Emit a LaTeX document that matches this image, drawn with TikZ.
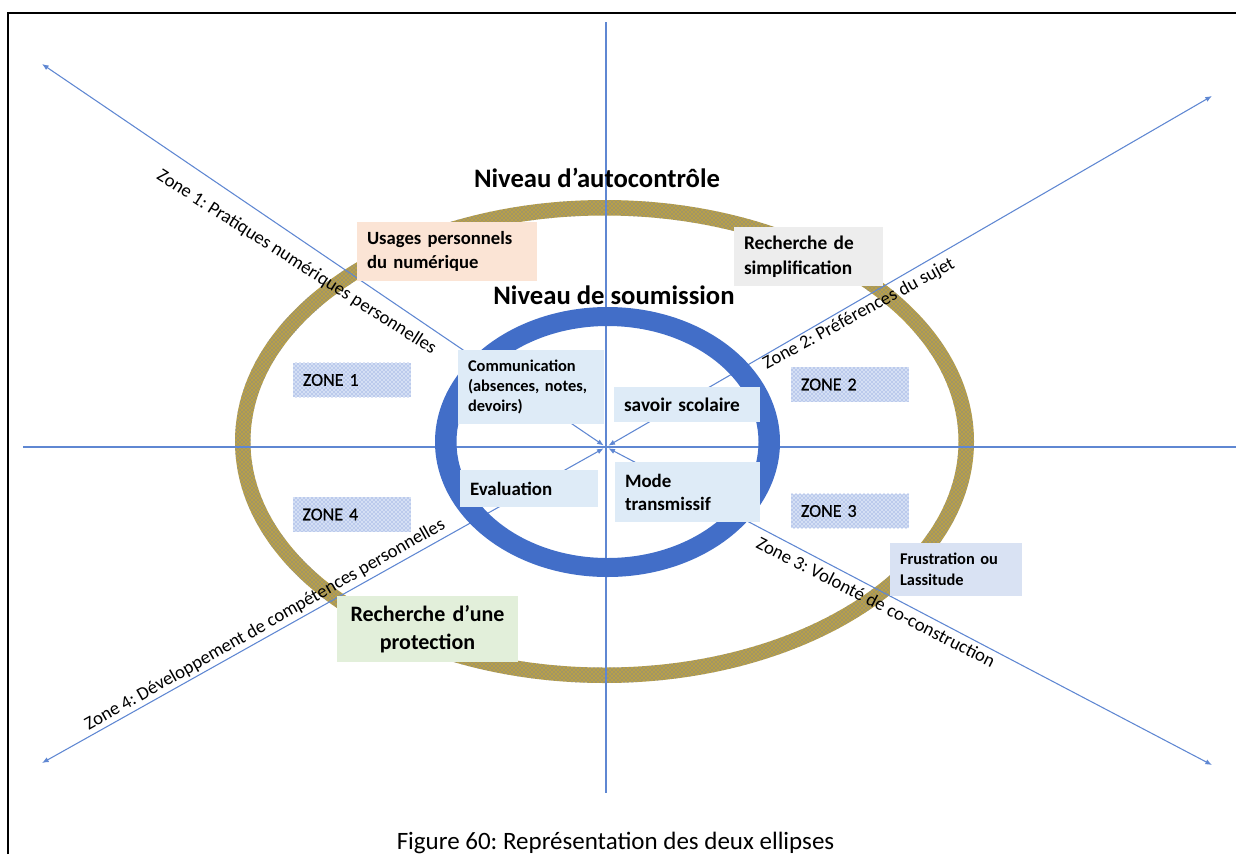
\documentclass[tikz,border=0pt]{standalone}
\usepackage{fontspec}
\setmainfont{Carlito}
\newfontfamily\zonefont{Carlito}[FakeBold=0.6]
\usetikzlibrary{arrows.meta,patterns}
\definecolor{axisblue}{RGB}{95,135,210}
\definecolor{ringblue}{RGB}{66,110,200}
\definecolor{gold}{RGB}{185,160,72}
\definecolor{dotblue}{RGB}{85,115,200}
\definecolor{zdot}{RGB}{105,135,210}
\definecolor{zbg}{RGB}{212,223,244}
\definecolor{salmon}{RGB}{251,228,213}
\definecolor{lgray}{RGB}{237,237,237}
\definecolor{lblue}{RGB}{222,235,247}
\definecolor{lgreen}{RGB}{226,239,218}
\definecolor{lpurple}{RGB}{217,226,243}
\newdimen\px \px=0.75pt
\frenchspacing
\begin{document}
\begin{tikzpicture}[x=0.75pt,y=-0.75pt,
  axis/.style={draw=axisblue,line width=0.8pt},
  tip/.style={{Latex[length=5pt,width=4pt]}-{Latex[length=5pt,width=4pt]}},
  box/.style={inner ysep=0pt,inner xsep=7.5pt,align=left,anchor=center},
  zonebg/.style={fill=zbg,inner sep=0pt,minimum width=88.5pt,minimum height=26pt},
  zonebox/.style={inner ysep=0pt,inner xsep=7.5pt,minimum width=88.5pt,minimum height=26pt,
     text width=73.5pt,align=left,
     pattern=crosshatch dots,pattern color=zdot,
     font=\fontsize{13.5pt}{15pt}\zonefont},
  zlabel/.style={inner sep=0pt,font=\fontsize{14pt}{16pt}\selectfont},
  title/.style={inner sep=0pt,font=\fontsize{20pt}{24pt}\selectfont\bfseries}]
\useasboundingbox (0,0) rectangle (1236,854);
% frame
\coordinate (f1) at (8,854); \coordinate (f2) at (8,13); \coordinate (f3) at (1236,13);
\draw[line width=1.6pt] (f1) -- (f2) -- (f3);
% coordinates
\coordinate (ec) at (604.5,441.5);
\coordinate (bc) at (607.5,442);
\coordinate (c) at (606,447);
\coordinate (tl) at (42,64);
\coordinate (tr) at (1212,96);
\coordinate (bl) at (42,763);
\coordinate (br) at (1212,765);
\coordinate (vt) at (606,22); \coordinate (vb) at (606,793);
\coordinate (hl) at (23,447); \coordinate (hr) at (1236,447);
% gold ellipse
\fill[gold,even odd rule] (ec) ellipse[x radius=369.5\px,y radius=241.5\px]
   (ec) ellipse[x radius=354\px,y radius=226\px];
\fill[pattern=crosshatch dots,pattern color=dotblue,even odd rule] (ec) ellipse[x radius=369.5\px,y radius=241.5\px]
   (ec) ellipse[x radius=354\px,y radius=226\px];
% axes
\draw[axis] (vt) -- (vb);
\draw[axis] (hl) -- (hr);
\draw[axis,tip,shorten >=2pt] (tl) -- (c);
\draw[axis,tip,shorten >=2pt] (tr) -- (c);
\draw[axis,tip,shorten >=2pt] (bl) -- (c);
\draw[axis,tip,shorten >=2pt] (br) -- (c);
% blue ring
\fill[ringblue,even odd rule] (bc) ellipse[x radius=172.5\px,y radius=135\px]
   (bc) ellipse[x radius=151\px,y radius=116\px];
% titles
\node[title] (t1) at (597,178) {Niveau d’autocontrôle};
\node[title] (t2) at (614,295) {Niveau de soumission};
% diagonal labels
\node[zlabel,rotate=-32.5] (z1) at (296.5,262.5) {Zone 1: Pratiques numériques personnelles};
\node[zlabel,rotate=28.5] (z2) at (859,314) {Zone 2: Préférences du sujet};
\node[zlabel,rotate=-27] (z3) at (876,602) {Zone 3: Volonté de co-construction};
\node[zlabel,rotate=29.6] (z4) at (265,625) {Zone 4: Développement de compétences personnelles};
% zone boxes
\node[zonebg] (zb1) at (352,380) {};
\node[zonebg] (zb4) at (351.5,514.5) {};
\node[zonebg] (zb2) at (850,384.5) {};
\node[zonebg] (zb3) at (850,511) {};
\node[zonebox] (zone1) at (352,380) {ZONE 1};
\node[zonebox] (zone4) at (351.5,514.5) {ZONE 4};
\node[zonebox] (zone2) at (850,384.5) {ZONE 2};
\node[zonebox] (zone3) at (850,511) {ZONE 3};
% text boxes
\node[box,fill=salmon,minimum width=135pt,minimum height=44.25pt,text width=120pt,
  font=\fontsize{14pt}{18pt}\selectfont\bfseries] (usages) at (447,251.5) {Usages personnels\\du numérique};
\node[box,fill=lgray,minimum width=111.75pt,minimum height=44.25pt,text width=96.75pt,
  font=\fontsize{14.5pt}{18.5pt}\selectfont\bfseries] (simpl) at (808.5,256.5) {Recherche de\\simplification};
\node[box,fill=lblue,minimum width=109.5pt,minimum height=55.5pt,text width=94.5pt,
  font=\fontsize{12.3pt}{15pt}\selectfont\bfseries] (comm) at (531,387) {Communication\\(absences, notes,\\devoirs)};
\node[box,fill=lblue,minimum width=109.5pt,minimum height=26.25pt,text width=94.5pt,
  font=\fontsize{14.5pt}{17pt}\selectfont\bfseries] (savoir) at (687,404.5) {savoir scolaire};
\node[box,fill=lblue,minimum width=103.5pt,minimum height=27.75pt,text width=88.5pt,
  font=\fontsize{14.2pt}{17pt}\selectfont\bfseries] (eval) at (529,488.5) {Evaluation};
\node[box,fill=lblue,minimum width=108.75pt,minimum height=45pt,text width=93.75pt,
  font=\fontsize{14.2pt}{17.25pt}\selectfont\bfseries] (mode) at (687.5,492) {Mode\\transmissif};
\node[box,fill=lgreen,minimum width=135.75pt,minimum height=49.5pt,text width=120pt,align=center,
  font=\fontsize{16.5pt}{21pt}\selectfont\bfseries] (prot) at (427.5,629) {Recherche d’une\\protection};
\node[box,fill=lpurple,minimum width=97.5pt,minimum height=39.75pt,text width=84pt,
  font=\fontsize{12.3pt}{15.75pt}\selectfont\bfseries] (frust) at (956,569.5) {Frustration ou\\Lassitude};
% caption
\node[inner sep=0pt,font=\fontsize{18.75pt}{22pt}\selectfont] (cap) at (615.5,843) {Figure 60: Représentation des deux ellipses};
\end{tikzpicture}
\end{document}
